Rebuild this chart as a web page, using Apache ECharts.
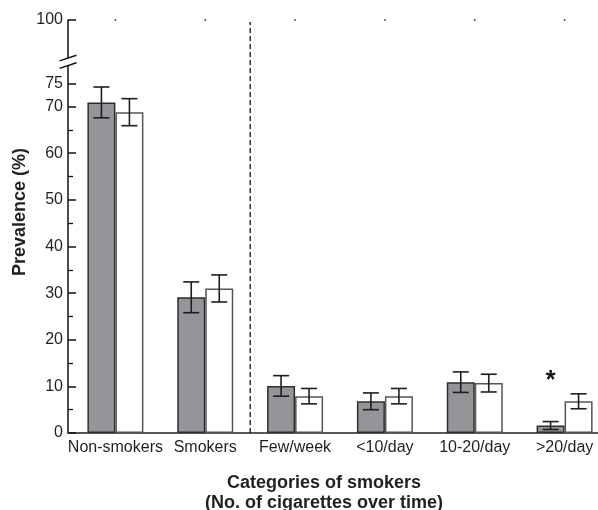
<!DOCTYPE html>
<html>
<head>
<meta charset="utf-8">
<script src="https://cdn.jsdelivr.net/npm/echarts@6/dist/echarts.min.js"></script>
<style>
  html, body { margin: 0; padding: 0; background: #fff; }
  #chart { width: 598px; height: 510px; }
</style>
</head>
<body>
<div id="chart"></div>
<script>
// Smoking category prevalence, two groups with error bars
const categories = ['Non-smokers', 'Smokers', 'Few/week', '<10/day', '10-20/day', '>20/day'];
const groupA = [70.9, 29.1, 10.1, 6.8, 10.9, 1.6];      // grey bars
const errA   = [3.3, 3.3, 2.2, 1.8, 2.2, 0.85];
const groupB = [68.8, 31.0, 7.9, 7.9, 10.7, 6.8];       // white bars
const errB   = [2.9, 2.9, 1.65, 1.65, 1.9, 1.6];
const marksA = ['', '', '', '', '', '*'];               // significance markers
const majorTicks = [0, 10, 20, 30, 40, 50, 60, 70, 75, 100];
const minorTicks = [5, 15, 25, 35, 45, 55, 65];
const separatorAfter = 1;                                // dashed divider after 'Smokers'

// Broken y axis: linear up to 75, compressed segment above it up to 100
const BREAK_LOW = 75;
const SQUEEZE = 13.57 / 25;
function toAxis(v) { return v <= BREAK_LOW ? v : BREAK_LOW + (v - BREAK_LOW) * SQUEEZE; }
const AXIS_MAX = toAxis(100);
const BREAK_AT = 79.6;

const GRID_LEFT = 70.5;
const Y_OFFSET = 2.5;
const AXIS_X = GRID_LEFT - Y_OFFSET;
const BAR_W = 28;
const CAP_W = 16;
const INK = '#231f20';
const FONT = 'Liberation Sans, Arial, sans-serif';

function errorSeries(means, errs, marks, dir) {
  return {
    type: 'custom',
    z: 5,
    data: means.map((m, i) => [i, m, errs[i]]),
    renderItem: function (params, api) {
      const i = api.value(0), m = api.value(1), e = api.value(2);
      const mark = marks ? marks[i] : '';
      const c = api.coord([i, toAxis(m)]);
      const x = c[0] + dir * BAR_W / 2;
      const yTop = api.coord([i, toAxis(m + e)])[1];
      const yBot = api.coord([i, toAxis(m - e)])[1];
      const st = { stroke: '#1e1e1e', lineWidth: 1.6 };
      const children = [
        { type: 'line', shape: { x1: x, y1: yTop, x2: x, y2: yBot }, style: st },
        { type: 'line', shape: { x1: x - CAP_W / 2, y1: yTop, x2: x + CAP_W / 2, y2: yTop }, style: st },
        { type: 'line', shape: { x1: x - CAP_W / 2, y1: yBot, x2: x + CAP_W / 2, y2: yBot }, style: st }
      ];
      if (mark) {
        children.push({
          type: 'text',
          style: { text: mark, x: x, y: yTop - 40, align: 'center', verticalAlign: 'middle',
                   font: 'bold 25px ' + FONT, fill: '#111' }
        });
      }
      return { type: 'group', children: children };
    }
  };
}

const chart = echarts.init(document.getElementById('chart'), null, { renderer: 'canvas' });

chart.setOption({
  animation: false,
  backgroundColor: '#fff',
  grid: { left: GRID_LEFT, top: 20, bottom: 77, width: 539, outerBoundsMode: 'none', containLabel: false },
  xAxis: [
    {
      type: 'category', data: categories, position: 'bottom',
      axisLine: { lineStyle: { color: '#222', width: 1.6 } },
      axisTick: { show: false },
      axisLabel: { interval: 0, fontSize: 16, margin: 7, color: INK, fontFamily: FONT },
      splitLine: { show: false }
    }
  ],
  yAxis: [
    {
      type: 'value', min: 0, max: AXIS_MAX, position: 'left', offset: Y_OFFSET,
      axisLine: { show: true, lineStyle: { color: '#111', width: 1.5 } },
      axisTick: { show: true, inside: true, length: 8, customValues: majorTicks.map(toAxis),
                  lineStyle: { color: '#111', width: 1.5 } },
      axisLabel: {
        customValues: majorTicks.map(toAxis), fontSize: 16, margin: 5, color: INK, fontFamily: FONT,
        formatter: function (v) { return Math.abs(v - AXIS_MAX) < 0.01 ? '100' : String(Math.round(v)); }
      },
      splitLine: { show: false }
    },
    {
      type: 'value', min: 0, max: AXIS_MAX, position: 'left', offset: Y_OFFSET,
      axisLine: { show: false },
      axisTick: { show: true, inside: true, length: 5, customValues: minorTicks.map(toAxis),
                  lineStyle: { color: '#111', width: 1.3 } },
      axisLabel: { show: false },
      splitLine: { show: false }
    }
  ],
  series: [
    {
      type: 'bar', data: groupA.map(toAxis), barWidth: BAR_W, barGap: '0%',
      itemStyle: { color: '#939598', borderColor: '#2e2e2e', borderWidth: 1.5 }
    },
    {
      type: 'bar', data: groupB.map(toAxis), barWidth: BAR_W, barGap: '0%',
      itemStyle: { color: '#ffffff', borderColor: '#555555', borderWidth: 1.5 }
    },
    errorSeries(groupA, errA, marksA, -1),
    errorSeries(groupB, errB, null, 1),
    {
      // small top-edge ticks above each category
      type: 'scatter', z: 3, silent: true,
      data: categories.map(() => AXIS_MAX),
      symbol: 'rect', symbolSize: [1.6, 1.6],
      itemStyle: { color: '#000' }
    },
    {
      type: 'custom', z: 4,
      data: [[separatorAfter]],
      renderItem: function (params, api) {
        const k = api.value(0);
        const x = (api.coord([k, 0])[0] + api.coord([k + 1, 0])[0]) / 2;
        const y0 = api.coord([k, 0])[1];
        const y1 = api.coord([k, AXIS_MAX])[1] + 2;
        return { type: 'line', shape: { x1: x, y1: y0, x2: x, y2: y1 },
                 style: { stroke: '#111', lineWidth: 1.3, lineDash: [5, 3] } };
      }
    }
  ]
});

// Axis break marks, axis corner and axis titles
const yb = chart.convertToPixel({ yAxisIndex: 0 }, BREAK_AT);
const y0 = chart.convertToPixel({ yAxisIndex: 0 }, 0);
chart.setOption({
  graphic: [
    { type: 'line', z: 100, shape: { x1: AXIS_X, y1: y0, x2: GRID_LEFT + 1, y2: y0 },
      style: { stroke: '#222', lineWidth: 1.6 } },
    { type: 'rect', z: 100, shape: { x: AXIS_X - 2, y: yb - 3.5, width: 4, height: 7 }, style: { fill: '#fff' } },
    { type: 'line', z: 101, shape: { x1: AXIS_X - 8.5, y1: yb - 0.9, x2: AXIS_X + 8.5, y2: yb - 6.6 },
      style: { stroke: '#111', lineWidth: 1.4 } },
    { type: 'line', z: 101, shape: { x1: AXIS_X - 8.5, y1: yb + 6.6, x2: AXIS_X + 8.5, y2: yb + 0.9 },
      style: { stroke: '#111', lineWidth: 1.4 } },
    { type: 'text', z: 100, x: 20, y: 212, rotation: Math.PI / 2,
      style: { text: 'Prevalence (%)', font: 'bold 18px ' + FONT, fill: INK, align: 'center', verticalAlign: 'middle' } },
    { type: 'text', z: 100, x: 324, y: 493,
      style: { text: 'Categories of smokers\n(No. of cigarettes over time)', font: 'bold 18px ' + FONT,
               lineHeight: 20, fill: INK, align: 'center', verticalAlign: 'middle' } }
  ]
});
</script>
</body>
</html>
